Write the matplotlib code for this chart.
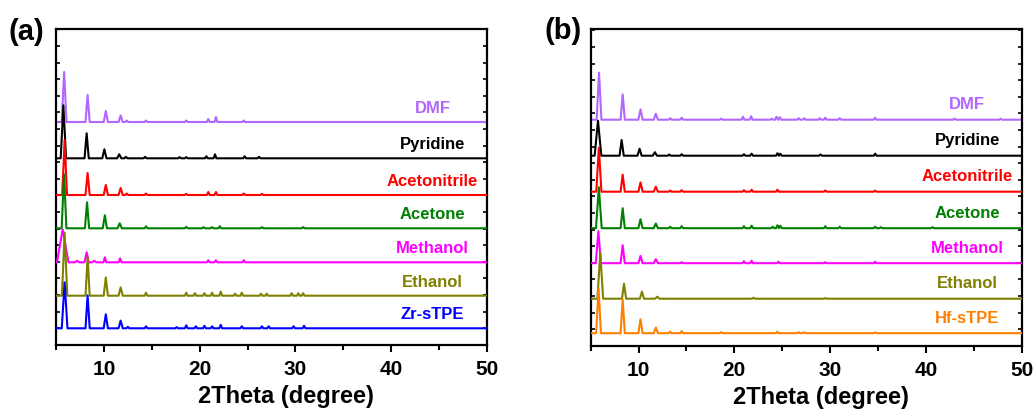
import matplotlib
matplotlib.use("Agg")
import matplotlib.pyplot as plt
import numpy as np

plt.rcParams['font.family'] = ['Liberation Sans', 'DejaVu Sans']
plt.rcParams['font.weight'] = 'bold'

# ---------------- data (2theta in degrees, intensity in arbitrary units) -------------
x_range = [5, 50]

labels_a = ["DMF", "Pyridine", "Acetonitrile", "Acetone", "Methanol", "Ethanol", "Zr-sTPE"]
labels_b = ["DMF", "Pyridine", "Acetonitrile", "Acetone", "Methanol", "Ethanol", "Hf-sTPE"]
colors_a = ["#B266FF", "#000000", "#FF0000", "#008000", "#FF00FF", "#808000", "#0000FF"]
colors_b = ["#B266FF", "#000000", "#FF0000", "#008000", "#FF00FF", "#808000", "#FF8000"]
offsets_a = [222.7, 186.4, 149.7, 116.4, 82.4, 49.0, 16.4]
offsets_b = [226.0, 190.0, 154.0, 117.5, 82.5, 47.0, 12.5]

# panel (a) peak positions / intensities
dmf_a_pos = [5.85, 8.3, 10.2, 11.75, 12.4, 14.4, 18.6, 20.9, 21.7, 24.6]
dmf_a_int = [50, 27, 11, 6.5, 1.5, 1.5, 1.5, 3, 5, 1.5]
pyr_a_pos = [5.77, 8.2, 10.05, 11.6, 12.3, 14.3, 17.9, 18.6, 20.7, 21.6, 24.7, 26.2]
pyr_a_int = [53, 25, 9, 4, 1.5, 1.5, 1.2, 1.2, 2, 4, 2, 1.5]
acn_a_pos = [5.9, 8.3, 10.2, 11.75, 12.4, 14.4, 18.6, 20.9, 21.7, 24.6, 26.5]
acn_a_int = [55, 22, 10, 7, 1.5, 1.5, 1.2, 3, 3, 1.5, 1.2]
ace_a_pos = [5.84, 8.24, 10.1, 11.65, 14.4, 18.6, 20.4, 21.3, 22.1, 26.5, 30.8]
ace_a_int = [54, 26, 13, 5, 2, 1.5, 1.2, 1.2, 2, 1.2, 1.2]
meo_a_pos = [5.7, 7.2, 8.2, 9.0, 10.1, 11.7, 20.9, 21.7, 24.6]
meo_a_int = [33, 1.5, 10, 1.5, 5, 4, 2, 2, 2]
eto_a_pos = [5.9, 8.3, 10.2, 11.75, 14.4, 18.6, 19.5, 20.5, 21.3, 22.2, 23.7, 24.4,
             26.4, 27.0, 29.6, 30.3, 30.8]
eto_a_int = [63, 38.7, 18.3, 8.3, 3, 3, 2.5, 2.5, 3, 4, 2, 3, 2, 2, 2.5, 2.5, 2.5]
zr_pos = [5.9, 8.3, 10.2, 11.75, 12.5, 14.4, 17.6, 18.6, 19.6, 20.5, 21.3, 22.2, 24.4,
          26.5, 27.2, 29.8, 30.9]
zr_int = [46, 33, 14, 7.7, 1.5, 2, 1.2, 3, 2, 2.5, 2, 3.5, 2, 2, 2, 2, 2.5]

# panel (b) peak positions / intensities
dmf_b_pos = [5.87, 8.34, 10.2, 11.8, 13.3, 14.5, 18.6, 20.9, 21.75, 23.9, 24.4, 24.75,
             26.7, 27.3, 28.9, 29.5, 31.0, 34.7, 43.0, 47.8]
dmf_b_int = [47, 25.3, 10.3, 6, 1.5, 2, 1, 3, 3.5, 1, 3, 2.5, 1.5, 1.5, 1.5, 2, 1.5, 2, 1, 1]
pyr_b_pos = [5.76, 8.23, 10.1, 11.7, 13.2, 14.5, 21.0, 21.8, 24.5, 24.8, 29.0, 34.7]
pyr_b_int = [35, 15.7, 7, 3.5, 1.2, 1.5, 1.5, 2, 2.5, 2, 1.2, 2]
acn_b_pos = [5.85, 8.34, 10.2, 11.8, 13.3, 14.5, 21.0, 21.8, 24.5, 29.5, 34.7]
acn_b_int = [44, 17, 9.3, 5, 1.2, 1.5, 1.5, 2, 2, 1.2, 1]
ace_b_pos = [5.85, 8.34, 10.2, 11.8, 13.3, 14.5, 21.0, 21.8, 24.0, 24.5, 24.8, 29.5,
             31.0, 34.7, 35.3, 40.7]
ace_b_int = [41, 20, 9, 4.7, 1.5, 2, 2, 2.5, 1.5, 3, 2.5, 2, 1.5, 1.5, 1, 1]
meo_b_pos = [5.8, 8.34, 10.2, 11.8, 14.5, 21.0, 21.8, 24.6, 29.5, 34.7]
meo_b_int = [32, 18, 7.3, 4, 1, 2, 2.5, 1.5, 1, 1.5]
eto_b_pos = [6.0, 8.48, 10.35, 11.95, 22.0, 29.5]
eto_b_int = [46, 15, 7, 2, 1, 0.6]
hf_pos = [5.82, 8.34, 10.2, 11.8, 13.3, 14.5, 18.6, 24.5, 26.7, 27.3, 34.7]
hf_int = [45, 34, 14, 5.7, 1.5, 2, 1, 1.5, 1, 1, 0.8]

# half-width of the strongest (first) reflection for each pattern
first_hw_a = [0.25, 0.28, 0.25, 0.25, 0.6, 0.28, 0.3]
first_hw_b = [0.25, 0.35, 0.27, 0.3, 0.27, 0.3, 0.25]

series_a = [(dmf_a_pos, dmf_a_int), (pyr_a_pos, pyr_a_int), (acn_a_pos, acn_a_int),
            (ace_a_pos, ace_a_int), (meo_a_pos, meo_a_int), (eto_a_pos, eto_a_int),
            (zr_pos, zr_int)]
series_b = [(dmf_b_pos, dmf_b_int), (pyr_b_pos, pyr_b_int), (acn_b_pos, acn_b_int),
            (ace_b_pos, ace_b_int), (meo_b_pos, meo_b_int), (eto_b_pos, eto_b_int),
            (hf_pos, hf_int)]

HW = 0.15  # default half base width of a reflection (deg)


def profile(pos, inten, hw_first):
    xs, ys = [x_range[0]], [0.0]
    for i, (p, h) in enumerate(zip(pos, inten)):
        w = hw_first if i == 0 else (0.22 if i < 4 else HW)
        xs += [p - w, p, p + w]
        ys += [0.0, h, 0.0]
    xs.append(x_range[1])
    ys.append(0.0)
    return np.array(xs), np.array(ys)


fig = plt.figure(figsize=(10.36, 4.10), dpi=100)
ax_a = fig.add_axes([56 / 1036, 1 - 345.7 / 410, 431 / 1036, 315.7 / 410])
ax_b = fig.add_axes([590.7 / 1036, 1 - 346.7 / 410, 431 / 1036, 316.7 / 410])


def draw(ax, series, labels, colors, offsets, hws, ytop, lab_dy):
    for k, ((pos, inten), lab, col, off, hw) in enumerate(zip(series, labels, colors, offsets, hws)):
        xs, ys = profile(pos, inten, hw)
        ax.plot(xs, ys + off, color=col, lw=1.5, zorder=2 + k, solid_joinstyle='round')
        ax.text(44.3, off + lab_dy, lab, color=col, fontsize=12, fontweight='bold',
                ha='center', va='center')
    ax.set_xlim(*x_range)
    ax.set_ylim(0, ytop)
    ax.set_xticks([10, 20, 30, 40, 50])
    ax.set_xticks([5, 15, 25, 35, 45], minor=True)
    ax.set_yticks(np.arange(16.5, ytop, 16.6))
    ax.set_yticklabels([])
    ax.tick_params(axis='x', which='major', direction='out', length=5, width=1.5,
                   labelsize=15, pad=5)
    ax.tick_params(axis='x', which='minor', direction='out', length=3.5, width=1.5)
    ax.tick_params(axis='y', which='major', direction='in', length=3, width=1.2,
                   left=True, right=True)
    for lbl in ax.get_xticklabels():
        lbl.set_fontweight('bold')
    for s in ax.spines.values():
        s.set_linewidth(1.6)
    ax.set_xlabel("2Theta (degree)", fontsize=17, fontweight='bold', labelpad=2)
    ax.xaxis.set_label_coords(0.534, -0.125)


draw(ax_a, series_a, labels_a, colors_a, offsets_a, first_hw_a, 315.7, 14.5)
draw(ax_b, series_b, labels_b, colors_b, offsets_b, first_hw_b, 316.7, 16.0)

fig.text(9 / 1036, 1 - 32 / 410, "(a)", fontsize=21, fontweight='bold', va='center', ha='left')
fig.text(544 / 1036, 1 - 31 / 410, "(b)", fontsize=21, fontweight='bold', va='center', ha='left')

fig.savefig("out.png", dpi=100)
